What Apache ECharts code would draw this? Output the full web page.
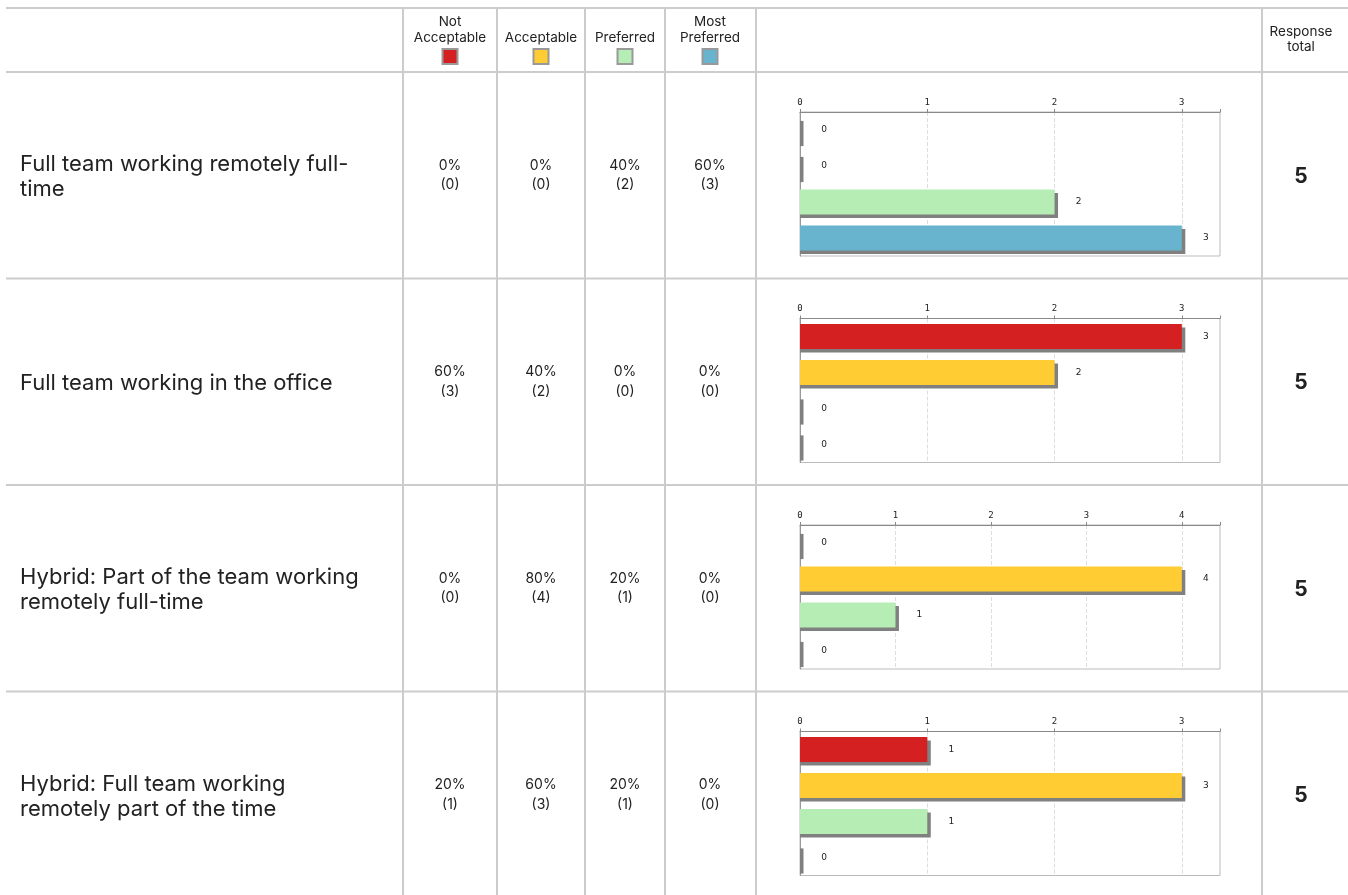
<!DOCTYPE html>
<html>
<head>
<meta charset="utf-8">
<script src="https://cdn.jsdelivr.net/npm/echarts@6/dist/echarts.min.js"></script>
<style>
  html, body { margin: 0; padding: 0; background: #fff; }
  #chart { width: 1348px; height: 895px; }
</style>
</head>
<body>
<div id="chart"></div>
<script>
// Answer options, in column order
const categories = ['Not Acceptable', 'Acceptable', 'Preferred', 'Most Preferred'];
const headerLabels = ['Not\nAcceptable', 'Acceptable', 'Preferred', 'Most\nPreferred'];

// Statements being rated (line breaks as shown in the first column)
const statements = [
  'Full team working remotely full-\ntime',
  'Full team working in the office',
  'Hybrid: Part of the team working\nremotely full-time',
  'Hybrid: Full team working\nremotely part of the time'
];

// Response counts per statement, one value per answer option
const countsRemote     = [0, 0, 2, 3];
const countsOffice     = [3, 2, 0, 0];
const countsHybridPart = [0, 4, 1, 0];
const countsHybridFull = [1, 3, 1, 0];
const counts = [countsRemote, countsOffice, countsHybridPart, countsHybridFull];

// Respondents per statement
const totals = [5, 5, 5, 5];

const responseHeader = 'Response\ntotal';

// ---- styling ----
const palette = ['#d42020', '#ffcc33', '#b5edb5', '#68b4ce'];
const textFont = 'Inter, "Noto Sans", sans-serif';
const lineColor = '#cccccc';

// ---- table geometry ----
const tableLeft = 6, tableRight = 1348, tableTop = 8, headerBottom = 72;
const rowHeight = 206.5;
const colLines = [403, 497, 585, 665, 756, 1262];
const colCenters = [450, 541, 625, 710];
const respCenter = 1301;
const plotLeft = 800, plotWidth = 420, plotOffset = 40, plotHeight = 144;

const chart = echarts.init(document.getElementById('chart'), null, { renderer: 'canvas' });

const graphics = [];
function hLine(y) {
  graphics.push({ type: 'line', silent: true, z: 1,
    shape: { x1: tableLeft, y1: y, x2: tableRight, y2: y },
    style: { stroke: lineColor, lineWidth: 2 } });
}
function vLine(x) {
  graphics.push({ type: 'line', silent: true, z: 1,
    shape: { x1: x, y1: tableTop, x2: x, y2: 895 },
    style: { stroke: lineColor, lineWidth: 2 } });
}
function text(t, x, y, opts) {
  graphics.push({ type: 'text', silent: true, z: 5, x: x, y: y,
    style: Object.assign({ text: t, fill: '#222', font: '13.5px ' + textFont,
      textAlign: 'center', textVerticalAlign: 'middle' }, opts || {}) });
}

// grid lines of the table
hLine(tableTop);
hLine(headerBottom);
for (let i = 1; i < statements.length; i++) hLine(headerBottom + i * rowHeight);
colLines.forEach(vLine);

// header: option names with colour keys
headerLabels.forEach((lbl, i) => {
  text(lbl, colCenters[i], 45.5, { lineHeight: 15.4, textVerticalAlign: 'bottom' });
  graphics.push({ type: 'rect', silent: true, z: 5,
    shape: { x: colCenters[i] - 7.5, y: 49, width: 15, height: 15 },
    style: { fill: palette[i], stroke: '#999', lineWidth: 2 } });
});
text(responseHeader, respCenter, 39.5, { lineHeight: 14.4 });

// body rows
const grids = [], xAxes = [], yAxes = [], series = [];
statements.forEach((s, r) => {
  const rowTop = headerBottom + r * rowHeight;
  const mid = rowTop + rowHeight / 2;
  text(s, 20, mid + 2, { font: '22px ' + textFont, textAlign: 'left', lineHeight: 25 });
  counts[r].forEach((c, i) => {
    const pct = Math.round(c / totals[r] * 100) + '%';
    text(pct + '\n(' + c + ')', colCenters[i], mid, { font: '14px ' + textFont, lineHeight: 19.4 });
  });
  text(String(totals[r]), respCenter, mid + 1, { font: 'bold 21px ' + textFont });

  grids.push({ left: plotLeft, width: plotWidth, top: rowTop + plotOffset, height: plotHeight,
    show: true, borderColor: '#bbb', borderWidth: 1, backgroundColor: 'transparent' });
  xAxes.push({
    type: 'value', gridIndex: r, position: 'top', min: 0,
    max: v => v.max * 1.1, interval: 1,
    axisLine: { show: true, lineStyle: { color: '#888', width: 1 } },
    axisTick: { show: true, length: 3, lineStyle: { color: '#888' } },
    axisLabel: { fontSize: 9, color: '#222', margin: 5, fontFamily: '"DejaVu Sans Mono", monospace',
      formatter: v => (Number.isInteger(v) ? String(v) : '') },
    splitLine: { show: true, lineStyle: { type: 'dashed', color: '#dddddd', width: 1 } }
  });
  yAxes.push({
    type: 'category', gridIndex: r, data: categories, inverse: true,
    axisLine: { show: true, lineStyle: { color: '#999' } },
    axisTick: { show: false }, axisLabel: { show: false }, splitLine: { show: false }
  });
  series.push({
    type: 'custom', xAxisIndex: r, yAxisIndex: r,
    encode: { x: 0, y: 1 },
    data: counts[r].map((c, i) => [c, i]),
    renderItem: (params, api) => {
      const v = api.value(0), ci = api.value(1);
      const start = api.coord([0, ci]);
      const end = api.coord([v, ci]);
      const band = api.size([0, 1])[1];
      const h = band * 0.7;
      const w = end[0] - start[0];
      const top = start[1] - h / 2;
      return {
        type: 'group',
        children: [
          { type: 'rect', shape: { x: start[0], y: top + 3.5, width: w + 3.5, height: h },
            style: { fill: '#808080' } },
          { type: 'rect', shape: { x: start[0], y: top, width: w, height: h },
            style: { fill: palette[ci] } },
          { type: 'text', x: end[0] + 24, y: start[1],
            style: { text: String(v), fill: '#222', font: '9px "DejaVu Sans", sans-serif',
              align: 'center', verticalAlign: 'middle' } }
        ]
      };
    }
  });
});

chart.setOption({
  animation: false,
  backgroundColor: '#fff',
  grid: grids,
  xAxis: xAxes,
  yAxis: yAxes,
  series: series,
  graphic: graphics
});
</script>
</body>
</html>
